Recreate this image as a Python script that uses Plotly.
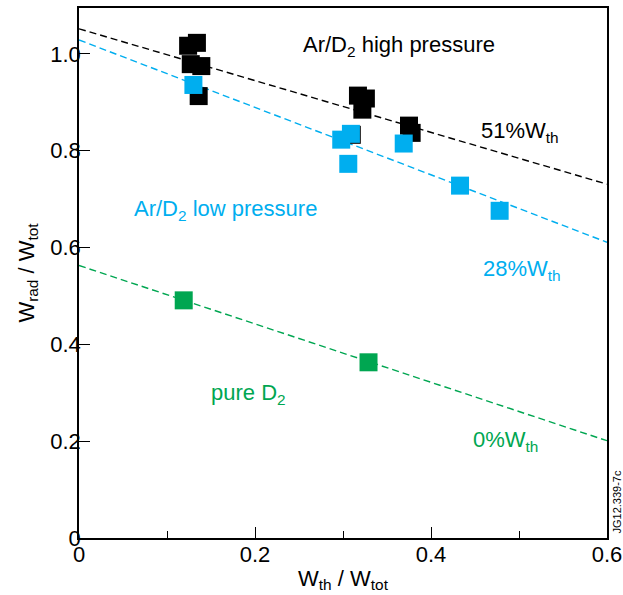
import plotly.graph_objects as go

# Data
high_x = [0.124, 0.134, 0.127, 0.139, 0.136, 0.317, 0.326, 0.322, 0.375, 0.378, 0.310]
high_y = [1.017, 1.023, 0.979, 0.975, 0.913, 0.914, 0.908, 0.885, 0.852, 0.837, 0.833]

low_x = [0.130, 0.298, 0.309, 0.306, 0.369, 0.433, 0.478]
low_y = [0.936, 0.823, 0.835, 0.773, 0.815, 0.728, 0.676]

pure_x = [0.119, 0.329]
pure_y = [0.491, 0.363]

fit_x = [0.0, 0.6]
fit_high = [1.052, 0.731]
fit_low = [1.029, 0.611]
fit_pure = [0.563, 0.201]

x_ticks = [0, 0.2, 0.4, 0.6]
x_ticklabels = ["0", "0.2", "0.4", "0.6"]
y_ticks = [0, 0.2, 0.4, 0.6, 0.8, 1.0]
y_ticklabels = ["0", "0.2", "0.4", "0.6", "0.8", "1.0"]

BLACK = "#000000"
BLUE = "#00AEEF"
GREEN = "#00A651"
FONT = "Liberation Sans, Arial, sans-serif"
FS = 22

fig = go.Figure()

for fy, col in [(fit_high, BLACK), (fit_low, BLUE), (fit_pure, GREEN)]:
    fig.add_trace(go.Scatter(x=fit_x, y=fy, mode="lines",
                             line=dict(color=col, width=1.4, dash="7px,4px"),
                             hoverinfo="skip", showlegend=False))

# last black point (mostly hidden) drawn first
fig.add_trace(go.Scatter(x=high_x[::-1], y=high_y[::-1], mode="markers",
                         marker=dict(symbol="square", size=18, color=BLACK, line=dict(width=0)),
                         showlegend=False))
fig.add_trace(go.Scatter(x=low_x, y=low_y, mode="markers",
                         marker=dict(symbol="square", size=18, color=BLUE, line=dict(width=0)),
                         showlegend=False))
fig.add_trace(go.Scatter(x=pure_x, y=pure_y, mode="markers",
                         marker=dict(symbol="square", size=18, color=GREEN, line=dict(width=0)),
                         showlegend=False))

ann = [
    dict(x=0.252, y=1.017, text="Ar/D<sub>2</sub> high pressure", color=BLACK),
    dict(x=0.455, y=0.838, text="51%W<sub>th</sub>", color=BLACK),
    dict(x=0.060, y=0.677, text="Ar/D<sub>2</sub> low pressure", color=BLUE),
    dict(x=0.457, y=0.553, text="28%W<sub>th</sub>", color=BLUE),
    dict(x=0.148, y=0.298, text="pure D<sub>2</sub>", color=GREEN),
    dict(x=0.446, y=0.201, text="0%W<sub>th</sub>", color=GREEN),
]
annotations = []
for a in ann:
    annotations.append(dict(x=a["x"], y=a["y"], xref="x", yref="y", text=a["text"],
                            showarrow=False, xanchor="left", yanchor="middle",
                            font=dict(family=FONT, size=FS, color=a["color"])))
annotations.append(dict(x=1.0, y=0.0, xref="paper", yref="paper", text="JG12.339-7c",
                        showarrow=False, textangle=-90, xanchor="left", yanchor="bottom",
                        xshift=1, yshift=2, font=dict(family=FONT, size=11, color=BLACK)))

fig.update_layout(
    width=623, height=595, autosize=False,
    margin=dict(l=79, r=16, t=8, b=57, autoexpand=False),
    paper_bgcolor="white", plot_bgcolor="white",
    font=dict(family=FONT, size=FS, color=BLACK),
    annotations=annotations,
    xaxis=dict(range=[0, 0.6], tickvals=x_ticks, ticktext=x_ticklabels,
               automargin=False,
               ticks="inside", ticklen=11, tickcolor=BLACK, tickwidth=1,
               ticklabelstandoff=-4,
               minor=dict(dtick=0.1, ticks="inside", ticklen=7, tickcolor=BLACK),
               showline=True, linecolor=BLACK, linewidth=1.5, mirror=True,
               showgrid=False, zeroline=False,
               title=dict(text="W<sub>th</sub> / W<sub>tot</sub>", font=dict(size=FS), standoff=4),
               tickfont=dict(size=FS)),
    yaxis=dict(range=[0, 1.095], tickvals=y_ticks, ticktext=y_ticklabels,
               automargin=False,
               ticks="inside", ticklen=11, tickcolor=BLACK, tickwidth=1,
               ticklabelstandoff=-8,
               showline=True, linecolor=BLACK, linewidth=1.5, mirror=True,
               showgrid=False, zeroline=False,
               title=dict(text="W<sub>rad</sub> / W<sub>tot</sub>", font=dict(size=FS), standoff=10),
               tickfont=dict(size=FS)),
)

page_fix = ("document.body.style.margin='0';"
            "document.body.style.overflow='hidden';"
            "document.documentElement.style.overflow='hidden';")

fig.write_html("out.html", post_script=page_fix, config={"displayModeBar": False})
